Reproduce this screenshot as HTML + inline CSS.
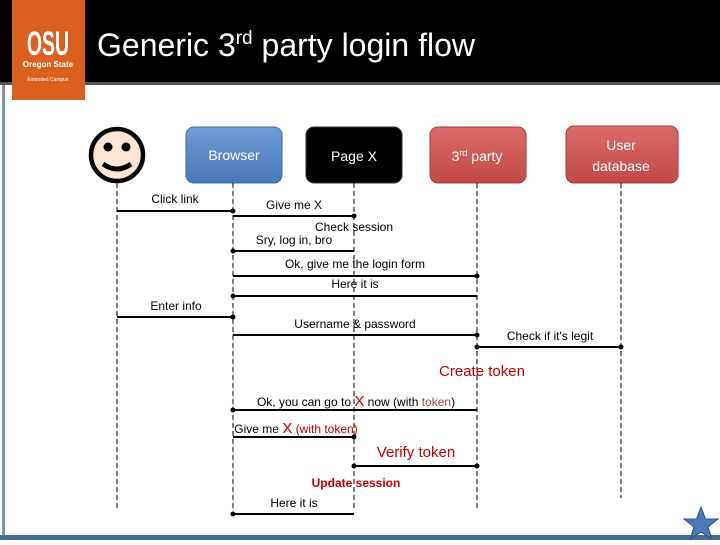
<!DOCTYPE html>
<html><head><style>
body{margin:0;width:720px;height:540px;overflow:hidden;background:#fff;font-family:"Liberation Sans",sans-serif}
svg text{font-family:"Liberation Sans",sans-serif}
</style></head><body>
<svg width="720" height="540" xmlns="http://www.w3.org/2000/svg">
<defs>
<linearGradient id="gb" x1="0" y1="0" x2="0" y2="1"><stop offset="0" stop-color="#6f9bd6"/><stop offset="1" stop-color="#4a78ba"/></linearGradient>
<linearGradient id="gr" x1="0" y1="0" x2="0" y2="1"><stop offset="0" stop-color="#d96a68"/><stop offset="1" stop-color="#c24a48"/></linearGradient>
</defs>
<rect x="0" y="0" width="720" height="82" fill="#000"/>
<rect x="0" y="82" width="720" height="3" fill="#555"/>
<rect x="2" y="85" width="3" height="455" fill="#7a96b8"/>
<rect x="0" y="535" width="720" height="5" fill="#4a6a90"/>
<rect x="12" y="0" width="73" height="100" fill="#d9601f"/>
<text x="0" y="0" fill="#fff" font-size="26" font-weight="bold" text-anchor="middle" transform="translate(48,55) scale(0.75,1.3)">OSU</text>
<text x="48" y="67" fill="#fff" font-size="8" font-weight="bold" text-anchor="middle">Oregon State</text>
<text x="48" y="81" fill="#fff" font-size="5" text-anchor="middle">Extended Campus</text>
<text x="97" y="56" fill="#fff" font-size="32">Generic 3<tspan dy="-12" font-size="19">rd</tspan><tspan dy="12"> party login flow</tspan></text>
<circle cx="117" cy="155" r="26" fill="#fbe5d6" stroke="#000" stroke-width="4.5"/>
<circle cx="108" cy="147" r="4.5" fill="#000"/><circle cx="126" cy="147" r="4.5" fill="#000"/>
<path d="M103 164 Q117 174 131 164" stroke="#000" stroke-width="5" fill="none"/>
<rect x="186" y="127" width="96" height="56" rx="8" fill="url(#gb)" stroke="#3d6aa8"/>
<text x="234" y="160" fill="#fff" font-size="14" text-anchor="middle">Browser</text>
<rect x="306" y="127" width="96" height="56" rx="8" fill="#000" stroke="#333"/>
<text x="354" y="161" fill="#fff" font-size="14" text-anchor="middle">Page X</text>
<rect x="430" y="127" width="96" height="56" rx="8" fill="url(#gr)" stroke="#a83a38"/>
<text x="477" y="161" fill="#fff" font-size="14" text-anchor="middle">3<tspan dy="-5" font-size="9">rd</tspan><tspan dy="5"> party</tspan></text>
<rect x="566" y="126" width="112" height="57" rx="8" fill="url(#gr)" stroke="#a83a38"/>
<text x="621" y="150" fill="#fff" font-size="14" text-anchor="middle">User</text>
<text x="621" y="171" fill="#fff" font-size="14" text-anchor="middle">database</text>
<g stroke="#000" stroke-width="1" stroke-dasharray="5,3">
<line x1="117" y1="183" x2="117" y2="508"/>
<line x1="233" y1="183" x2="233" y2="508"/>
<line x1="354" y1="183" x2="354" y2="508"/>
<line x1="477" y1="183" x2="477" y2="508"/>
<line x1="621" y1="183" x2="621" y2="498"/>
</g>
<g stroke="#000" stroke-width="2">
<line x1="117" y1="211" x2="233" y2="211"/>
<line x1="233" y1="216" x2="354" y2="216"/>
<line x1="233" y1="251" x2="354" y2="251"/>
<line x1="233" y1="276" x2="477" y2="276"/>
<line x1="233" y1="296" x2="477" y2="296"/>
<line x1="117" y1="317" x2="233" y2="317"/>
<line x1="233" y1="335" x2="477" y2="335"/>
<line x1="477" y1="347" x2="621" y2="347"/>
<line x1="233" y1="410" x2="477" y2="410"/>
<line x1="233" y1="437" x2="354" y2="437"/>
<line x1="354" y1="466" x2="477" y2="466"/>
<line x1="233" y1="514" x2="354" y2="514"/>
</g>
<g fill="#000">
<circle cx="233" cy="211" r="2.5"/><circle cx="354" cy="216" r="2.5"/><circle cx="233" cy="251" r="2.5"/>
<circle cx="477" cy="276" r="2.5"/><circle cx="233" cy="296" r="2.5"/><circle cx="233" cy="317" r="2.5"/>
<circle cx="477" cy="335" r="2.5"/><circle cx="621" cy="347" r="2.5"/><circle cx="477" cy="347" r="2.5"/>
<circle cx="233" cy="410" r="2.5"/><circle cx="354" cy="437" r="2.5"/><circle cx="477" cy="466" r="2.5"/>
<circle cx="354" cy="466" r="2.5"/><circle cx="233" cy="514" r="2.5"/>
</g>
<g font-size="12" fill="#000" text-anchor="middle">
<text x="175" y="203">Click link</text>
<text x="294" y="209">Give me X</text>
<text x="354" y="231">Check session</text>
<text x="294" y="244">Sry, log in, bro</text>
<text x="355" y="268">Ok, give me the login form</text>
<text x="355" y="288">Here it is</text>
<text x="176" y="310">Enter info</text>
<text x="355" y="328">Username &amp; password</text>
<text x="550" y="340">Check if it's legit</text>
<text x="356" y="406">Ok, you can go to <tspan fill="#c00000" font-size="15">X</tspan> now (with <tspan fill="#9a4a4a">token</tspan>)</text>
<text x="296" y="433">Give me <tspan fill="#c00000" font-size="15">X</tspan> <tspan fill="#c00000">(with token)</tspan></text>
<text x="294" y="507">Here it is</text>
<text x="356" y="487" fill="#c00000" font-weight="bold">Update session</text>
</g>
<text x="482" y="376" font-size="15" fill="#c00000" text-anchor="middle">Create token</text>
<text x="416" y="457" font-size="15" fill="#c00000" text-anchor="middle">Verify token</text>
<polygon points="701,507 705.5,519 718,519 708,527 712,539 701,532 690,539 694,527 684,519 696.5,519" fill="#4a78ba" stroke="#2e5080"/>
</svg>
</body></html>
